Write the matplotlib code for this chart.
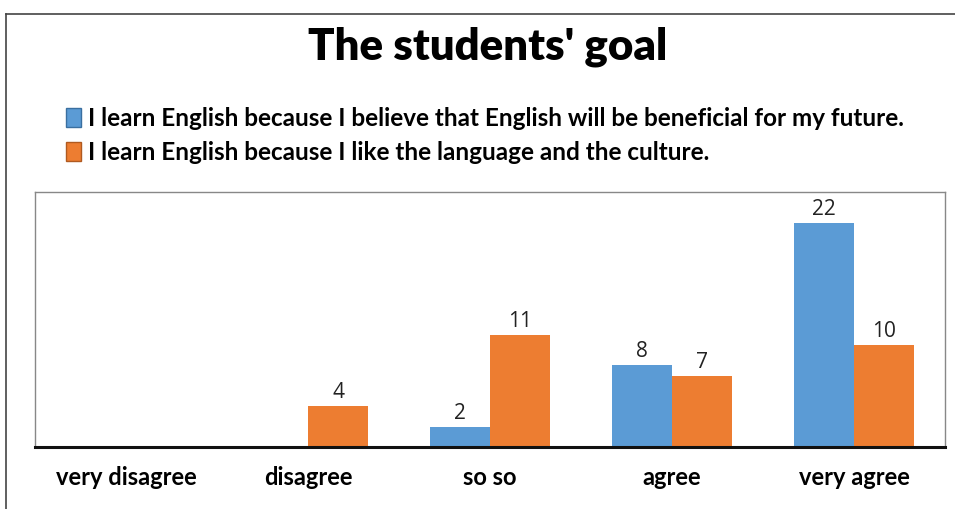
import matplotlib
matplotlib.use("Agg")
import matplotlib.pyplot as plt
from matplotlib.lines import Line2D
from matplotlib.patches import Patch
import numpy as np

categories = ["very disagree", "disagree", "so so", "agree", "very agree"]
series_names = [
    "I learn English because I believe that English will be beneficial for my future.",
    "I learn English because I like the language and the culture.",
]
future_values = [0, 0, 2, 8, 22]
culture_values = [0, 4, 11, 7, 10]
colors = ["#5B9BD5", "#ED7D31"]

fig = plt.figure(figsize=(9.55, 5.09), dpi=100)
fig.patch.set_facecolor("white")

# outer frame (top and left edges)
fig.add_artist(Line2D([6/955, 1], [1-14/509, 1-14/509], color="#444444", lw=1.2))
fig.add_artist(Line2D([6/955, 6/955], [0, 1-14/509], color="#444444", lw=1.2))

ax = fig.add_axes([35/955, 1-447/509, 910/955, 255/509])
x = np.arange(len(categories))
w = 0.33
b1 = ax.bar(x - w/2, future_values, w, color=colors[0])
b2 = ax.bar(x + w/2, culture_values, w, color=colors[1])

for bars, vals in ((b1, future_values), (b2, culture_values)):
    for rect, v in zip(bars, vals):
        if v > 0:
            ax.text(rect.get_x() + rect.get_width()/2, v + 0.3, str(v),
                    ha="center", va="bottom", fontsize=15, color="#222222",
                    family="Open Sans")

ax.set_xlim(-0.5, len(categories) - 0.5)
ax.set_ylim(0, 25)
ax.set_yticks([])
ax.set_xticks(x)
ax.set_xticklabels(categories, fontsize=17, fontweight="bold", family="Lato")
ax.tick_params(axis="x", length=0, pad=14)
for s in ("top", "right", "left"):
    ax.spines[s].set_color("#888888")
    ax.spines[s].set_linewidth(1.0)
ax.spines["bottom"].set_color("#111111")
ax.spines["bottom"].set_linewidth(2.2)

fig.text(488/955, 1-47/509, "The students' goal", ha="center", va="center",
         fontsize=31.5, fontweight="heavy", family="Lato")

handles = [Patch(facecolor=colors[0], edgecolor="#3a6fa0"),
           Patch(facecolor=colors[1], edgecolor="#b05a20")]
leg = fig.legend(handles, series_names, loc="upper left",
                 bbox_to_anchor=(66/955, 1-107/509), frameon=False,
                 prop={"family": "Lato", "weight": "bold", "size": 17.5},
                 handlelength=0.6, handleheight=0.8, handletextpad=0.3,
                 labelspacing=0.45, borderpad=0, borderaxespad=0)

fig.savefig("out.png", dpi=100, facecolor="white")
